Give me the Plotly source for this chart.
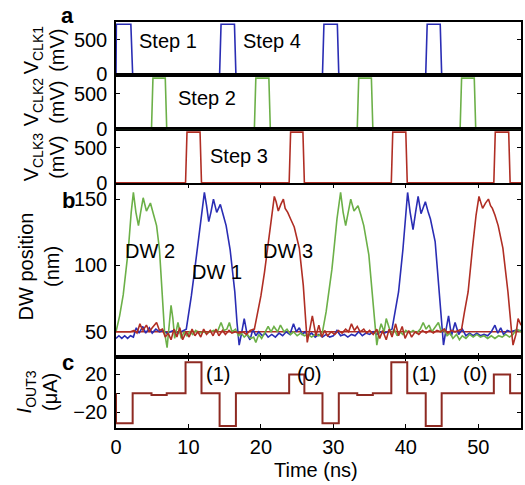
import plotly.graph_objects as go

# ---------------- data ----------------
# Clock voltages (time in ns, voltage in mV)
CLK1_T = [0.0, 0.05, 2.05, 2.3, 14.3, 14.5, 16.35, 16.55, 28.5, 28.7, 30.55, 30.75, 42.75, 42.95, 44.75, 44.95, 55.9]
CLK1_V = [0, 725, 725, 0, 0, 725, 725, 0, 0, 725, 725, 0, 0, 725, 725, 0, 0]
CLK2_T = [0.0, 4.9, 5.1, 6.8, 7.0, 19.1, 19.3, 21.1, 21.3, 33.3, 33.5, 35.25, 35.45, 47.5, 47.7, 49.45, 49.65, 55.9]
CLK2_V = [0, 0, 725, 725, 0, 0, 725, 725, 0, 0, 725, 725, 0, 0, 725, 725, 0, 0]
CLK3_T = [0.0, 9.6, 9.8, 11.6, 11.8, 23.9, 24.1, 25.8, 26.0, 38.0, 38.2, 40.0, 40.2, 52.15, 52.35, 54.2, 54.4, 55.9]
CLK3_V = [0, 0, 725, 725, 0, 0, 725, 725, 0, 0, 725, 725, 0, 0, 725, 725, 0, 0]

# Domain-wall positions (time in ns, position in nm)
DW1_T = [0.0, 0.4, 0.8, 1.2, 1.6, 2.0, 2.4, 2.8, 3.2, 3.7, 4.1, 4.6, 5.0, 5.5, 6.0, 6.5, 7.0, 7.5, 8.0, 8.5,
         9.0, 9.7, 10.0, 10.4, 10.8, 11.2, 11.6, 11.9, 12.2, 12.5, 12.8, 13.1, 13.45, 13.9, 14.4, 14.8, 15.2, 15.75, 16.1, 16.4,
         16.7, 17.0, 17.3, 17.7, 18.1, 18.5, 18.9, 19.3, 19.7, 20.2, 20.6, 21.0, 21.5, 22.0, 22.5, 23.0, 23.5, 24.0, 24.5, 24.9,
         25.3, 25.7, 26.1, 26.5, 27.0, 27.5, 28.0, 28.5, 29.0, 29.5, 30.0, 30.5, 31.0, 31.5, 32.0, 32.5, 33.0, 33.5, 34.0, 34.5,
         35.0, 35.5, 36.0, 36.5, 37.0, 37.5, 38.1, 38.6, 39.0, 39.6, 40.0, 40.25, 40.6, 41.0, 41.35, 41.7, 42.1, 42.7, 43.1, 43.4,
         44.05, 44.5, 44.95, 45.2, 45.5, 45.9, 46.3, 46.8, 47.3, 47.8, 48.3, 48.8, 49.3, 49.8, 50.3, 50.8, 51.3, 51.8, 52.3, 52.7,
         53.1, 53.5, 54.0, 54.5, 55.0, 55.9]
DW1_V = [45, 47, 45, 47, 45, 47, 46, 53, 49, 54, 49, 53, 49, 52, 50, 51, 49, 50, 51, 49,
         50, 52, 62, 77, 94, 112, 130, 145, 155, 145, 133, 140, 150, 140, 146, 138, 130, 112, 95, 80,
         57, 40, 48, 60, 48, 44, 52, 47, 50, 47, 49, 46, 48, 46, 49, 47, 50, 48, 56, 50,
         53, 48, 50, 47, 49, 46, 48, 46, 48, 46, 47, 51, 47, 48, 46, 48, 47, 50, 47, 49,
         48, 50, 48, 50, 49, 50, 52, 68, 80, 112, 140, 155, 140, 127, 140, 152, 139, 148, 140, 135,
         118, 88, 55, 40, 50, 62, 47, 57, 48, 52, 47, 49, 47, 49, 47, 48, 47, 50, 55, 49,
         53, 48, 51, 50, 51, 51]

DW2_T = [0.0, 0.5, 1.0, 1.4, 1.7, 2.1, 2.4, 2.75, 3.1, 3.4, 3.75, 4.2, 4.75, 5.2, 5.6, 6.0, 6.2, 6.4, 6.7, 7.05,
         7.35, 7.6, 7.85, 8.1, 8.55, 9.0, 9.4, 9.8, 10.2, 10.6, 11.0, 11.5, 12.0, 12.5, 13.0, 13.5, 14.0, 14.5, 14.9, 15.3,
         15.65, 16.0, 16.5, 16.9, 17.3, 17.7, 18.1, 18.6, 19.0, 19.3, 19.7, 20.1, 20.6, 21.0, 21.4, 21.8, 22.3, 22.7, 23.2, 23.6,
         24.1, 24.5, 25.0, 25.5, 26.0, 26.5, 27.0, 27.5, 28.0, 28.5, 29.0, 29.4, 29.8, 30.1, 30.5, 31.0, 31.35, 31.7, 32.0, 32.4,
         32.85, 33.4, 33.8, 34.2, 34.9, 35.35, 35.8, 36.0, 36.3, 36.6, 37.0, 37.3, 37.7, 38.0, 38.4, 38.8, 39.2, 39.6, 40.0, 40.5,
         41.0, 41.5, 42.0, 42.4, 42.8, 43.2, 43.6, 44.0, 44.5, 44.9, 45.3, 45.7, 46.1, 46.5, 47.0, 47.4, 47.8, 48.3, 48.8, 49.3,
         49.8, 50.3, 50.8, 51.3, 51.8, 52.3, 52.8, 53.3, 53.8, 54.3, 54.8, 55.3, 55.9]
DW2_V = [50, 62, 78, 95, 112, 140, 155, 140, 130, 140, 151, 141, 147, 138, 130, 112, 95, 80, 50, 38,
         55, 70, 60, 45, 57, 45, 50, 47, 50, 48, 51, 49, 50, 49, 50, 51, 50, 57, 51, 52,
         57, 50, 52, 47, 49, 46, 48, 45, 46, 42, 48, 45, 50, 54, 50, 54, 50, 55, 50, 52,
         48, 50, 47, 49, 47, 48, 46, 48, 47, 50, 65, 80, 97, 113, 135, 155, 140, 130, 140, 150,
         141, 145, 138, 130, 108, 80, 50, 40, 50, 56, 50, 60, 53, 48, 52, 47, 50, 48, 51, 49,
         51, 49, 52, 57, 52, 55, 50, 53, 57, 50, 52, 47, 49, 45, 48, 44, 47, 45, 48, 46,
         48, 46, 47, 45, 47, 45, 47, 46, 48, 46, 48, 52, 50]

DW3_T = [0.0, 0.5, 1.0, 1.5, 2.0, 2.5, 2.9, 3.3, 3.7, 4.2, 4.6, 5.0, 5.6, 6.0, 6.4, 6.8, 7.2, 7.6, 8.0, 8.4,
         8.8, 9.2, 9.7, 10.1, 10.5, 10.9, 11.3, 11.7, 12.1, 12.5, 13.0, 13.4, 13.8, 14.2, 14.7, 15.1, 15.6, 16.0, 16.5, 17.0,
         17.5, 18.0, 18.5, 19.1, 19.5, 20.0, 20.5, 20.9, 21.4, 21.85, 22.1, 22.4, 22.75, 23.1, 23.35, 23.7, 24.1, 24.6, 25.3, 25.6,
         25.85, 26.2, 26.4, 26.75, 27.1, 27.6, 28.0, 28.4, 28.8, 29.2, 29.7, 30.2, 30.7, 31.2, 31.7, 32.1, 32.5, 32.9, 33.3, 33.7,
         34.2, 34.6, 35.0, 35.5, 36.0, 36.4, 36.8, 37.3, 37.7, 38.1, 38.6, 39.0, 39.5, 39.9, 40.4, 40.8, 41.3, 41.8, 42.3, 42.8,
         43.3, 43.8, 44.3, 44.8, 45.3, 45.8, 46.3, 46.8, 47.7, 48.1, 48.6, 49.2, 49.7, 50.1, 50.4, 50.6, 51.0, 51.4, 51.7, 51.95,
         52.3, 52.75, 53.4, 53.8, 54.1, 54.6, 54.8, 55.2, 55.5, 55.9]
DW3_V = [50, 50, 50, 50, 50, 51, 49, 56, 51, 55, 50, 53, 57, 51, 52, 46, 49, 44, 52, 46,
         53, 44, 50, 46, 52, 47, 50, 46, 52, 48, 51, 47, 52, 47, 51, 48, 51, 49, 50, 49,
         50, 48, 51, 52, 62, 77, 95, 113, 135, 152, 148, 141, 146, 150, 143, 140, 135, 129, 113, 100,
         85, 57, 42, 52, 62, 47, 55, 46, 51, 47, 50, 48, 51, 49, 52, 50, 56, 51, 54, 50,
         52, 49, 51, 48, 52, 45, 51, 44, 52, 46, 56, 47, 54, 45, 51, 46, 50, 48, 51, 49,
         51, 49, 51, 50, 52, 49, 51, 50, 52, 65, 80, 113, 138, 152, 146, 143, 147, 150, 145, 143,
         138, 130, 113, 95, 80, 50, 40, 48, 60, 55]

DW_REST = 50  # rest position (nm), flat reference line

# Output current (time ns, current uA), step-wise
IOUT_T = [0, 0, 2.3, 4.9, 7.0, 9.6, 11.8, 14.3, 16.55, 23.9, 26.0, 28.5, 30.75, 33.3, 35.45, 38.0, 40.2, 42.75, 44.95, 52.15, 54.4, 55.9]
IOUT_V = [0, -32, 0, -2, 0, 33, 0, -35, 0, 20, 0, -32, 0, -2, 0, 33, 0, -35, 0, 20, 0, 0]

X_TICKS = [0, 10, 20, 30, 40, 50]
CLK_TICKS = [0, 500]
DW_TICKS = [50, 100, 150]
I_TICKS = [-20, 0, 20]

STEP_LABELS = [("Step 1", 7.2, 476, "y"), ("Step 4", 21.6, 476, "y"),
               ("Step 2", 12.6, 443, "y2"), ("Step 3", 17.0, 390, "y3")]
DW_LABELS = [("DW 2", 4.7, 111), ("DW 1", 14.0, 95), ("DW 3", 23.7, 111)]
BIT_LABELS = [("(1)", 14.1, 20), ("(0)", 26.6, 20), ("(1)", 42.5, 20), ("(0)", 49.6, 20)]

# ---------------- styling ----------------
BLUE = "#2a2db4"
GREEN = "#6cb048"
RED = "#b02e24"
DARKRED = "#8e2a22"
FONT = "Liberation Sans, Arial, sans-serif"

fig = go.Figure()
fig.add_trace(go.Scatter(x=CLK1_T, y=CLK1_V, mode="lines", line=dict(color=BLUE, width=1.6), xaxis="x", yaxis="y"))
fig.add_trace(go.Scatter(x=CLK2_T, y=CLK2_V, mode="lines", line=dict(color=GREEN, width=1.6), xaxis="x2", yaxis="y2"))
fig.add_trace(go.Scatter(x=CLK3_T, y=CLK3_V, mode="lines", line=dict(color=RED, width=1.6), xaxis="x3", yaxis="y3"))
fig.add_trace(go.Scatter(x=[0, 55.9], y=[DW_REST, DW_REST], mode="lines", line=dict(color=RED, width=1.6), xaxis="x4", yaxis="y4"))
fig.add_trace(go.Scatter(x=DW1_T, y=DW1_V, mode="lines", line=dict(color=BLUE, width=1.6), xaxis="x4", yaxis="y4"))
fig.add_trace(go.Scatter(x=DW2_T, y=DW2_V, mode="lines", line=dict(color=GREEN, width=1.6), xaxis="x4", yaxis="y4"))
fig.add_trace(go.Scatter(x=DW3_T, y=DW3_V, mode="lines", line=dict(color=RED, width=1.6), xaxis="x4", yaxis="y4"))
fig.add_trace(go.Scatter(x=IOUT_T, y=IOUT_V, mode="lines", line=dict(color=DARKRED, width=2, shape="hv"), xaxis="x5", yaxis="y5"))

# Layout geometry
L, T, R, B = 116, 22, 2, 57
W, H = 525, 485
PW, PH = W - L - R, H - T - B


def py(px):  # pixel y -> paper
    return (H - B - px) / PH


def pxx(px):  # pixel x -> paper
    return (px - L) / PW


doms = {
    "y": [py(75), 1.0],
    "y2": [py(129.3), py(75)],
    "y3": [py(183.3), py(129.3)],
    "y4": [py(357), py(184.5)],
    "y5": [0.0, py(357)],
}

axis_common = dict(showline=True, linecolor="black", linewidth=1.5, mirror="ticks",
                   showgrid=False, zeroline=False, layer="below traces",
                   tickfont=dict(family=FONT, size=20, color="black"),
                   tickcolor="black", ticklen=4, tickwidth=1.2)

layout = dict(width=W, height=H, margin=dict(l=L, r=R, t=T, b=B),
              paper_bgcolor="white", plot_bgcolor="white", showlegend=False,
              font=dict(family=FONT, size=20, color="black"))

yranges = {"y": [-8, 757], "y2": [-8, 770], "y3": [-8, 765], "y4": [31, 161], "y5": [-37, 38.5]}
yticks = {"y": CLK_TICKS, "y2": CLK_TICKS, "y3": CLK_TICKS, "y4": DW_TICKS, "y5": I_TICKS}
for i, yk in enumerate(["y", "y2", "y3", "y4", "y5"]):
    xk = "x" if i == 0 else f"x{i+1}"
    xname = "xaxis" if i == 0 else f"xaxis{i+1}"
    yname = "yaxis" if i == 0 else f"yaxis{i+1}"
    xa = dict(axis_common, domain=[0, 1], range=[0, 55.9], anchor=yk, tickvals=X_TICKS,
              showticklabels=(i == 4), ticks="inside" if i >= 3 else "")
    if i > 0:
        xa["matches"] = "x"
    ya = dict(axis_common, domain=doms[yk], range=yranges[yk], anchor=xk, tickvals=yticks[yk],
              ticks="inside", showticklabels=True, ticklabelstandoff=3)
    layout[xname] = xa
    layout[yname] = ya

fig.update_layout(**layout)

ann = []
for txt, x, y, yr in STEP_LABELS:
    xr = "x" if yr == "y" else "x" + yr[1:]
    ann.append(dict(text=txt, x=x, y=y, xref=xr, yref=yr, showarrow=False, font=dict(size=20)))
for txt, x, y in DW_LABELS:
    ann.append(dict(text=txt, x=x, y=y, xref="x4", yref="y4", showarrow=False, font=dict(size=20)))
for txt, x, y in BIT_LABELS:
    ann.append(dict(text=txt, x=x, y=y, xref="x5", yref="y5", showarrow=False, font=dict(size=20)))

# axis titles (two-line, rotated)
titles = [("V<sub>CLK1</sub><br>(mV)", 44, 50), ("V<sub>CLK2</sub><br>(mV)", 44, 102),
          ("V<sub>CLK3</sub><br>(mV)", 44, 157), ("DW position<br>(nm)", 39, 266),
          ("<i>I</i><sub>OUT3</sub><br>(μA)", 37, 392)]
for txt, x, y in titles:
    ann.append(dict(text=txt, x=pxx(x), y=py(y), xref="paper", yref="paper", textangle=-90,
                    showarrow=False, xanchor="center", yanchor="middle", font=dict(size=20)))
# panel letters
for txt, x, y in [("a", 67, 15), ("b", 68, 200), ("c", 68, 362)]:
    ann.append(dict(text=f"<b>{txt}</b>", x=pxx(x), y=py(y), xref="paper", yref="paper",
                    showarrow=False, xanchor="center", yanchor="middle", font=dict(size=22)))
# x title
ann.append(dict(text="Time (ns)", x=pxx(317), y=py(470), xref="paper", yref="paper",
                showarrow=False, xanchor="center", yanchor="middle", font=dict(size=20)))
fig.update_layout(annotations=ann)

fig.write_html("out.html", config={"displayModeBar": False},
               post_script="document.body.style.margin='0';document.body.style.overflow='hidden';")
